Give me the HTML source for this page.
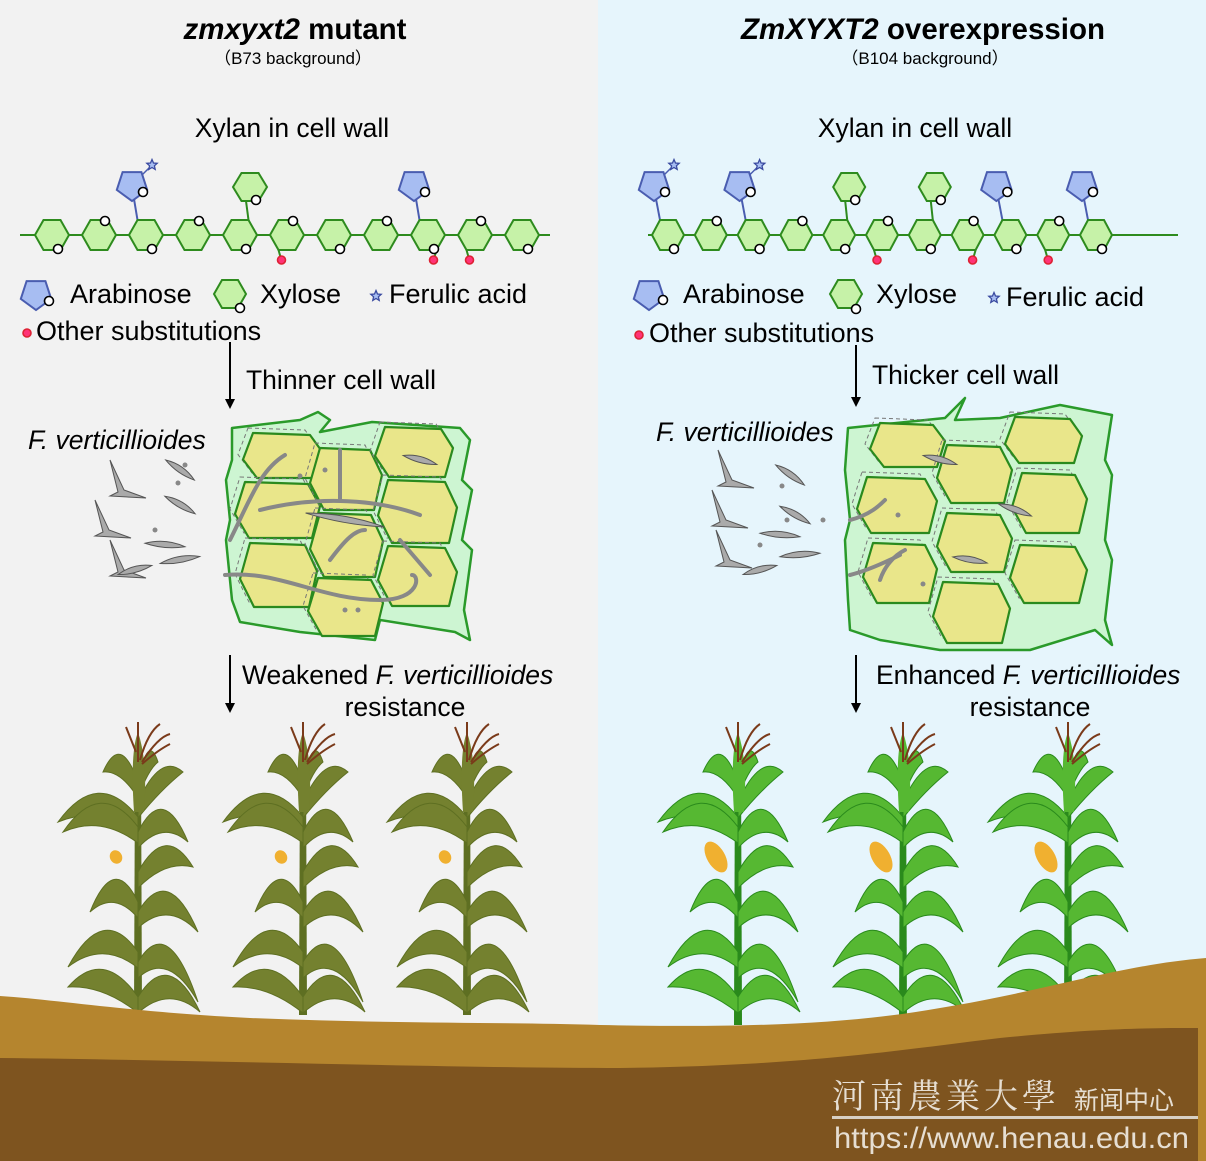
<!DOCTYPE html>
<html><head><meta charset="utf-8">
<style>
html,body{margin:0;padding:0;}
body{width:1206px;height:1161px;overflow:hidden;background:#f2f2f2;}
svg{display:block;}
text{font-family:"Liberation Sans",Arial,sans-serif;fill:#000;}
</style></head>
<body>
<svg id="s" width="1206" height="1161" viewBox="0 0 1206 1161" xmlns="http://www.w3.org/2000/svg">
<rect x="0" y="0" width="598" height="1161" fill="#f2f2f2"/>
<rect x="598" y="0" width="608" height="1161" fill="#e6f5fc"/>
<defs>
<marker id="ah" markerWidth="10" markerHeight="10" refX="5" refY="5" orient="auto" markerUnits="userSpaceOnUse"><path d="M0,0 L10,5 L0,10z" fill="#000"/></marker>
</defs>
<text x="295" y="39" font-size="29.5" font-weight="bold" text-anchor="middle"><tspan font-style="italic">zmxyxt2</tspan> mutant</text>
<text x="293" y="64" font-size="17" text-anchor="middle">（B73 background）</text>
<text x="923" y="39" font-size="29.5" font-weight="bold" text-anchor="middle"><tspan font-style="italic">ZmXYXT2</tspan> overexpression</text>
<text x="925" y="64" font-size="17" text-anchor="middle">（B104 background）</text>
<text x="292" y="137" font-size="26.5" text-anchor="middle">Xylan in cell wall</text>
<text x="915" y="137" font-size="26.5" text-anchor="middle">Xylan in cell wall</text>
<g id="dyn"></g>
<text x="70" y="303" font-size="27">Arabinose</text>
<text x="260" y="303" font-size="27">Xylose</text>
<text x="389" y="303" font-size="27">Ferulic acid</text>
<text x="36" y="340" font-size="27">Other substitutions</text>
<text x="683" y="303" font-size="27">Arabinose</text>
<text x="876" y="303" font-size="27">Xylose</text>
<text x="1006" y="306" font-size="27">Ferulic acid</text>
<text x="649" y="342" font-size="27">Other substitutions</text>
<line x1="230" y1="342" x2="230" y2="404" stroke="#000" stroke-width="2" marker-end="url(#ah)"/>
<text x="246" y="389" font-size="26.5">Thinner cell wall</text>
<line x1="856" y1="345" x2="856" y2="402" stroke="#000" stroke-width="2" marker-end="url(#ah)"/>
<text x="872" y="384" font-size="26.5">Thicker cell wall</text>
<text x="28" y="449" font-size="26.5" font-style="italic">F. verticillioides</text>
<text x="656" y="441" font-size="26.5" font-style="italic">F. verticillioides</text>
<line x1="230" y1="655" x2="230" y2="708" stroke="#000" stroke-width="2" marker-end="url(#ah)"/>
<text x="242" y="684" font-size="26.5">Weakened <tspan font-style="italic">F. verticillioides</tspan></text>
<text x="405" y="716" font-size="26.5" text-anchor="middle">resistance</text>
<line x1="856" y1="655" x2="856" y2="708" stroke="#000" stroke-width="2" marker-end="url(#ah)"/>
<text x="876" y="684" font-size="26.5">Enhanced <tspan font-style="italic">F. verticillioides</tspan></text>
<text x="1030" y="716" font-size="26.5" text-anchor="middle">resistance</text>
<g id="plants"></g>
<path d="M0,996 C60,1000 130,1012 250,1018 C400,1024 500,1022 600,1025 C750,1028 850,1024 940,1008 C1050,990 1120,965 1206,958 L1206,1161 L0,1161z" fill="#b5852e"/>
<path d="M0,1058 C200,1060 450,1068 620,1068 C800,1066 900,1050 1000,1038 C1100,1028 1150,1028 1198,1028 L1198,1161 L0,1161z" fill="#7e541f"/>
<text x="832" y="1108" font-size="34" style="fill:#e6ded2;font-family:'Noto Serif CJK SC',serif" letter-spacing="4">河南農業大學</text>
<text x="1074" y="1109" font-size="25" style="fill:#e6ded2;font-family:'Noto Sans CJK SC',sans-serif">新闻中心</text>
<rect x="832" y="1116" width="366" height="3" fill="#d8d0c4"/>
<text x="834" y="1148" font-size="30" style="fill:#e6ded2" textLength="355" lengthAdjust="spacingAndGlyphs">https://www.henau.edu.cn</text>
</svg>
<script>
const dyn=document.getElementById('dyn'), pl=document.getElementById('plants');
let h='';
function hex(cx,cy,w,hh){const a=w/2,q=w/4,b=hh/2;return `<polygon points="${cx-a},${cy} ${cx-q},${cy-b} ${cx+q},${cy-b} ${cx+a},${cy} ${cx+q},${cy+b} ${cx-q},${cy+b}" fill="#c6f2a8" stroke="#2e8b1e" stroke-width="2"/>`;}
function oc(x,y,r,col){return `<circle cx="${x}" cy="${y}" r="${r||4.5}" fill="${col||'#fff'}" stroke="${col?'#d23':'#000'}" stroke-width="1.6"/>`;}
function pent(cx,cy){const pts=[];for(let i=0;i<5;i++){const a=-Math.PI/2+i*2*Math.PI/5+Math.PI/5;pts.push((cx+16*Math.cos(a)).toFixed(1)+','+(cy+16*Math.sin(a)).toFixed(1));}return `<polygon points="${pts.join(' ')}" fill="#a7bdf2" stroke="#4a5db0" stroke-width="2"/>`;}
function star(x,y){let p=[];for(let i=0;i<10;i++){const r=i%2?2.5:5.5,a=-Math.PI/2+i*Math.PI/5;p.push((x+r*Math.cos(a)).toFixed(1)+','+(y+r*Math.sin(a)).toFixed(1));}return `<polygon points="${p.join(' ')}" fill="#a7bdf2" stroke="#3a4aa0" stroke-width="1.3"/>`;}
function chain(x0,x1,c0,sp,n,w,ara,xyl,red,stars){
  const cy=235;
  h+=`<line x1="${x0}" y1="${cy}" x2="${x1}" y2="${cy}" stroke="#2e8b1e" stroke-width="2"/>`;
  for(let i=0;i<n;i++){const cx=c0+i*sp;
    if(ara.includes(i)){const px=cx-14,py=cy-50;h+=`<line x1="${cx-w/4}" y1="${cy-15}" x2="${px+2}" y2="${py+14}" stroke="#4a5db0" stroke-width="2"/>`;h+=pent(px,py);h+=oc(px+11,py+7);
      if(stars.includes(i)){h+=`<line x1="${px+10}" y1="${py-10}" x2="${px+18}" y2="${py-18}" stroke="#4a5db0" stroke-width="1.5"/>`+star(px+20,py-20);}}
    if(xyl.includes(i)){const px=cx+10,py=cy-48;h+=`<line x1="${cx+w/4}" y1="${cy-15}" x2="${px-4}" y2="${py+14}" stroke="#2e8b1e" stroke-width="2"/>`;h+=hex(px,py,w,28);h+=oc(px+6,py+13);}
  }
  for(let i=0;i<n;i++){const cx=c0+i*sp;h+=hex(cx,cy,w,30);
    const top=(i%2===1);
    if(red.includes(i)){const side=red.indexOf(i)%2?1:-1; h+=`<line x1="${cx+side*w/4}" y1="${cy+15}" x2="${cx+side*w/4-side*2}" y2="${cy+22}" stroke="#2e8b1e" stroke-width="2"/>`+oc(cx+side*w/4-side*3,cy+25,4,'#f37');}
    if(top) h+=oc(cx+6,cy-14); else h+=oc(cx+6,cy+14);
  }
}
chain(20,550,52,47,11,34,[2,8],[4],[5,8,9],[2]);
chain(648,1178,668,42.8,11,32,[0,2,8,10],[4,6],[5,7,9],[0,2]);
h+=pent(36,294)+oc(49,301)+hex(230,294,32,28)+oc(240,308)+star(376,296)+oc(27,333,4,'#f37');
h+=pent(649,294)+oc(663,300)+hex(846,294,32,28)+oc(856,309)+star(994,298)+oc(639,335,4,'#f37');
function cells(outer,list){
  h+=`<path d="${outer}" fill="#cdf5d2" stroke="#2a9a2a" stroke-width="2.5" stroke-linejoin="round"/>`;
  for(const c of list){const [x1,x2,y1,y2]=c;
    const pts=[[x1+10,y1],[x2-12,y1+2],[x2,(y1+y2)/2-4],[x2-8,y2],[x1+14,y2],[x1,(y1+y2)/2+4]];
    h+=`<polygon points="${pts.map(p=>(p[0]-5)+','+(p[1]-5)).join(' ')}" fill="none" stroke="#777" stroke-width="1" stroke-dasharray="4,3"/>`;
    h+=`<polygon points="${pts.map(p=>p.join(',')).join(' ')}" fill="#e9e68a" stroke="#2a8a1e" stroke-width="2.2" stroke-linejoin="round"/>`;}
}
cells("M232,428 L300,420 L318,412 L330,420 L320,432 L372,422 L460,428 L470,440 L462,480 L472,490 L462,540 L472,550 L464,610 L470,640 L455,632 L380,620 L375,640 L300,632 L240,622 L232,600 L226,540 L230,520 L226,480 L232,460z",
  [[243,322,433,478],[235,320,482,538],[240,317,543,607],[310,382,448,510],[310,383,513,577],[308,383,578,636],[375,453,427,477],[378,457,480,543],[378,457,546,606]]);
cells("M848,428 L945,418 L965,398 L955,420 L1000,418 L1060,405 L1112,415 L1105,460 L1112,475 L1105,540 L1112,560 L1105,620 L1112,645 L1095,630 L1030,650 L940,650 L880,640 L850,630 L848,600 L845,540 L850,520 L845,470z",
  [[870,945,423,467],[857,937,477,533],[863,937,543,603],[937,1012,445,503],[937,1012,513,572],[933,1010,582,643],[1005,1082,417,463],[1012,1087,473,533],[1010,1087,545,603]]);
function spore(x,y,len,ang){h+=`<g transform="translate(${x},${y}) rotate(${ang})"><path d="M${-len/2},0 Q0,-7 ${len/2},0 Q0,5 ${-len/2},0z" fill="#aaa" stroke="#555" stroke-width="1"/></g>`;}
function hook(x,y){h+=`<path d="M${x},${y} L${x+14},${y+30} L${x+36},${y+38} L${x},${y+36} L${x+8},${y+32}z" fill="#aaa" stroke="#555" stroke-width="1"/>`;}
const L=[[110,460],[95,500],[110,540]], R=[[718,450],[712,490],[716,530]];
for(const p of L)hook(p[0],p[1]); for(const p of R)hook(p[0],p[1]);
[[180,470,35,35],[180,505,35,30],[165,545,40,5],[180,560,40,-10],[135,570,35,-15],[420,460,35,15],[345,520,80,10]].forEach(s=>spore(...s));
[[790,475,35,35],[795,515,35,30],[780,535,40,5],[800,555,40,-5],[760,570,35,-15],[940,460,35,15],[1015,510,35,20],[970,560,35,10]].forEach(s=>spore(...s));
h+=`<g fill="none" stroke="#888" stroke-width="4" stroke-linecap="round">
<path d="M230,540 C250,500 260,470 285,455"/><path d="M260,510 C320,495 380,500 420,515"/><path d="M225,575 C280,570 320,600 380,600 C420,600 420,575 412,575"/>
<path d="M340,450 L340,500"/><path d="M330,560 C345,540 355,530 365,530"/><path d="M400,540 L430,575"/>
<path d="M850,520 C870,515 880,505 885,500"/><path d="M850,575 C870,570 890,560 900,555"/><path d="M880,580 C885,565 895,555 905,550"/></g>`;
[[178,483],[155,530],[185,465],[300,476],[325,470],[345,610],[358,610],[782,486],[787,520],[760,545],[823,520],[898,515],[923,584]].forEach(p=>h+=`<circle cx="${p[0]}" cy="${p[1]}" r="2.5" fill="#888"/>`);
dyn.innerHTML=h;
function plant(x,top,base,dark,light,earCol){
  let s='';
  s+=`<path d="M${x-3},${top+40} L${x+3},${top+40} L${x+4},${base} L${x-4},${base}z" fill="${dark}"/>`;
  const leaves=[[-1,top+95,-80,top+100],[-1,top+105,-75,top+110],[1,top+80,45,top+50],[1,top+110,50,top+120],[1,top+150,55,top+145],[-1,top+180,-48,top+190],[1,top+190,60,top+210],[-1,top+230,-70,top+245],[1,top+240,60,top+280],[-1,top+275,-70,top+265],[1,top+275,62,top+290],[-1,top+60,-35,top+50],[1,top+60,20,top+40]];
  for(const [d,ay,tx,ty] of leaves){const mx=x+tx*0.5, my=ay-30;
    s+=`<path d="M${x},${ay} Q${mx},${my-20} ${x+tx},${ty} Q${mx},${my+18} ${x},${ay+16}z" fill="${light}" stroke="${dark}" stroke-width="1"/>`;}
  s+=`<path d="M${x-4},${top+90} Q${x-8},${top+30} ${x},${top+10} Q${x+10},${top+40} ${x+6},${top+90}z" fill="${light}"/>`;
  s+=`<g stroke="#7a3a1a" stroke-width="2" fill="none"><path d="M${x},${top+40} L${x},${top}"/><path d="M${x+2},${top+38} Q${x+10},${top+10} ${x+22},${top+2}"/><path d="M${x+4},${top+40} Q${x+20},${top+15} ${x+32},${top+12}"/><path d="M${x+4},${top+42} Q${x+20},${top+28} ${x+32},${top+22}"/><path d="M${x-2},${top+30} L${x-12},${top+5}"/></g>`;
  s+=`<ellipse cx="${x-22}" cy="${top+135}" rx="${earCol==='big'?9:6}" ry="${earCol==='big'?17:7}" transform="rotate(-30 ${x-22} ${top+135})" fill="#f0b030"/>`;
  return s;
}
let p='';
for(const x of [138,303,467]) p+=plant(x,722,1015,'#5e6f22','#74812f','small');
for(const x of [738,903,1068]) p+=plant(x,722,1025,'#2a8a1c','#56b832','big');
pl.innerHTML=p;
</script>
</body></html>
